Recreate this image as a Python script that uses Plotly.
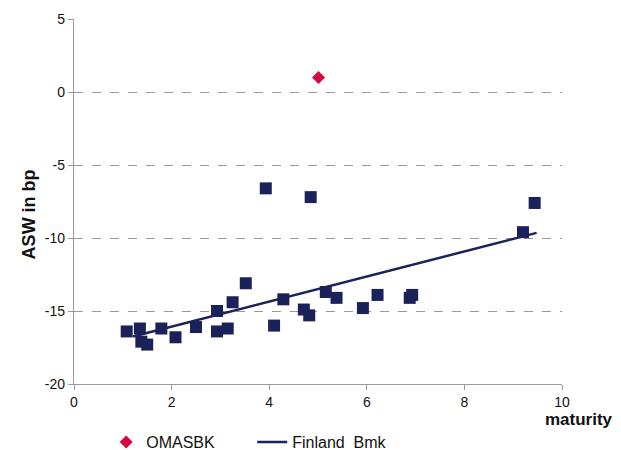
import plotly.graph_objects as go

# Benchmark bonds: maturity (years) vs asset swap spread (bp)
bmk_maturity = [1.08, 1.35, 1.38, 1.50, 1.79, 2.08, 2.50, 2.93, 2.93, 3.15, 3.25,
                3.52, 3.93, 4.10, 4.29, 4.71, 4.82, 4.85, 5.16, 5.38, 5.92, 6.22,
                6.88, 6.93, 9.20, 9.44]
bmk_asw = [-16.4, -16.2, -17.1, -17.3, -16.2, -16.8, -16.1, -15.0, -16.4, -16.2, -14.4,
           -13.1, -6.6, -16.0, -14.2, -14.9, -15.3, -7.2, -13.7, -14.1, -14.8, -13.9,
           -14.1, -13.9, -9.6, -7.6]

# Fitted benchmark curve endpoints
trend_maturity = [1.21, 9.48]
trend_asw = [-16.75, -9.65]

# Issuer bond
oma_maturity = [5.01]
oma_asw = [1.0]

x_ticks = [0, 2, 4, 6, 8, 10]
y_ticks = [-20, -15, -10, -5, 0, 5]
y_tick_labels = [str(v) for v in y_ticks]  # plain hyphen minus signs

NAVY = "#1b2159"
RED = "#d6053f"
GRID = "#9a9a9a"
TEXT = "#111111"
FONT = "Liberation Sans, Arial, sans-serif"

fig = go.Figure()

fig.add_trace(go.Scatter(
    x=bmk_maturity, y=bmk_asw, mode="markers", showlegend=False,
    marker=dict(symbol="square", size=12, color=NAVY),
))
fig.add_trace(go.Scatter(
    x=oma_maturity, y=oma_asw, mode="markers", name="OMASBK",
    marker=dict(symbol="diamond", size=10, color=RED),
))
fig.add_trace(go.Scatter(
    x=trend_maturity, y=trend_asw, mode="lines", name="Finland  Bmk",
    line=dict(color=NAVY, width=2.5),
))

fig.update_layout(
    width=621, height=450,
    margin=dict(l=74, r=59, t=19, b=66, autoexpand=False),
    paper_bgcolor="white", plot_bgcolor="white",
    font=dict(family=FONT, size=14, color=TEXT),
    showlegend=True,
    legend=dict(
        orientation="h", x=0.066, y=-0.159, xanchor="left", yanchor="middle",
        font=dict(family=FONT, size=16, color=TEXT),
        itemwidth=30, entrywidth=101, entrywidthmode="pixels",
        traceorder="normal", bgcolor="rgba(0,0,0,0)",
    ),
    xaxis=dict(
        range=[0, 10], tickvals=x_ticks, showgrid=False, zeroline=False,
        showline=True, linecolor=GRID, linewidth=1.3,
        ticks="outside", ticklen=5, tickcolor=GRID, tickwidth=1,
        tickfont=dict(size=14, color=TEXT),
    ),
    yaxis=dict(
        range=[-20, 5], tickvals=y_ticks, ticktext=y_tick_labels,
        showgrid=True, gridcolor=GRID,
        griddash="dash", gridwidth=1, zeroline=False,
        showline=True, linecolor=GRID, linewidth=1.3,
        ticks="outside", ticklen=5, tickcolor=GRID, tickwidth=1,
        tickfont=dict(size=14, color=TEXT),
    ),
    annotations=[
        dict(text="<b>ASW in bp</b>", xref="paper", yref="paper",
             x=-0.092, y=0.465, textangle=-90, showarrow=False,
             xanchor="center", yanchor="middle", font=dict(size=18)),
        dict(text="<b>maturity</b>", xref="paper", yref="paper",
             x=1.034, y=-0.096, showarrow=False,
             xanchor="center", yanchor="middle", font=dict(size=17)),
    ],
)

fig.write_html("out.html")
